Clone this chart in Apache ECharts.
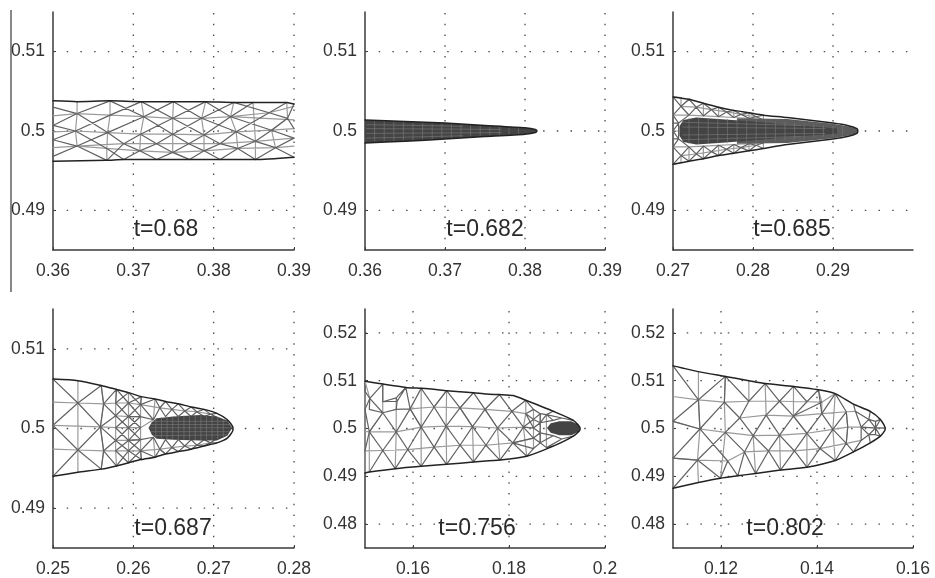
<!DOCTYPE html>
<html><head><meta charset="utf-8">
<style>html,body{margin:0;padding:0;background:#fff}#c{width:935px;height:578px}</style>
<script src="https://cdn.jsdelivr.net/npm/echarts@6/dist/echarts.min.js"></script>
</head><body><div id="c"></div>
<script>
// ---------- axis ranges ----------
const xRanges = [[0.36,0.39],[0.36,0.39],[0.27,0.30],[0.25,0.28],[0.15,0.20],[0.11,0.16]];
const yRanges = [[0.485,0.515],[0.485,0.515],[0.485,0.515],[0.485,0.515],[0.475,0.525],[0.475,0.525]];
const xTicks = [[0.36,0.37,0.38,0.39],[0.36,0.37,0.38,0.39],[0.27,0.28,0.29],[0.25,0.26,0.27,0.28],[0.16,0.18,0.2],[0.12,0.14,0.16]];
const yTicks = [[0.49,0.5,0.51],[0.49,0.5,0.51],[0.49,0.5,0.51],[0.49,0.5,0.51],[0.48,0.49,0.5,0.51,0.52],[0.48,0.49,0.5,0.51,0.52]];
const timeLabels = ['t=0.68','t=0.682','t=0.685','t=0.687','t=0.756','t=0.802'];

// ---------- panel 1, t=0.68 ----------
const nodes1 = {
 T0:[.3600,.5038],T1:[.3630,.5037],T2:[.3671,.5038],T3:[.3710,.5037],T4:[.3750,.5037],T5:[.3790,.5037],T6:[.3825,.5036],T7:[.3849,.5036],T8:[.3891,.5036],T9:[.3900,.5034],
 A1:[.3630,.5022],A2:[.3671,.5020],A3:[.3713,.5018],A4:[.3749,.5016],A5:[.3785,.5016],A6:[.3821,.5018],A7:[.3869,.5023],A8:[.3892,.5016],
 B1:[.3628,.5000],B2:[.3668,.4998],B3:[.3709,.4996],B4:[.3749,.4996],B5:[.3788,.4995],B6:[.3828,.4999],B7:[.3872,.5001],
 C1:[.3630,.4981],C2:[.3688,.4984],C3:[.3729,.4984],C4:[.3769,.4984],C5:[.3808,.4984],C6:[.3852,.4987],C7:[.3877,.4979],
 D2:[.3667,.4978],D3:[.3708,.4975],D4:[.3749,.4973],D5:[.3788,.4975],D6:[.3830,.4978],
 E0:[.3600,.4962],E2:[.3667,.4963],E3:[.3688,.4964],E4:[.3729,.4964],E5:[.3770,.4964],E6:[.3808,.4964],E7:[.3852,.4964],E8:[.3900,.4967],
 La:[.3600,.5030],Lb:[.3600,.5019],Ly:[.3600,.5007],Lc:[.3600,.4999],Lx:[.3600,.4989],Ld:[.3600,.4979],Le:[.3600,.4968],
 R1:[.3900,.5031],R2:[.3900,.5014],R3:[.3900,.5003],R4:[.3900,.4991],R5:[.3900,.4981]
};
const edge1 = ['T0 T1 T2 T3 T4 T5 T6 T7 T8 T9','E0 E2 E3 E4 E5 E6 E7 E8'];
const dark1 = ['Ly A1 T2','Lx B1 A2 T3','Le C1 B2 A3 T4','La A1 B2 C2 D3 E4','Ly B1 D2 E3','Lx C1 E2','T2 A3 B4 C4 D5 E6','T3 A4 B5 C5 D6 E7','T4 A5 B6 C6 C7 E8','T5 A6 B7 R4',
 'T6 A7 A8 R3','E2 C2 B3 A4 T5','E3 D3 C3 B4 A5 T6','E4 D4 C4 B5 A6 T7','E5 D5 C5 B6 A7 T8','E6 D6 C6 B7 A8 T9','E7 C7 R4','B3 C3 D4 E5'];
const light1 = ['T1 A1 B1 C1','T2 A2 B2 D2 E2','T3 A3 B3 D3','T4 A4 B4 D4 E5','T5 A5 B5 D5','T6 A6 B6 D6','T7 C6 E7','T8 A8 B7 C7','Lb A1 A2 A3 A4 A5 A6 A7 R1','Lc B1 B2 B3 B4 B5 B6 B7 R3','Ld C1 D2 D3 D4 D5 D6 C7 R5','C1 C2 C3 C4 C5 C6 R4','A6 R2'];
const core1 = [];
const mid1 = [];
const fine1 = [];

// ---------- panel 2, t=0.682 ----------
const nodes2 = {
 T0:[.3600,.5014],T1:[.3650,.5012],T2:[.3700,.5010],T3:[.3750,.5007],T4:[.3800,.5004],T5:[.3813,.5002],T6:[.3815,.5000],
 B0:[.3600,.4985],B1:[.3650,.4987],B2:[.3700,.4990],B3:[.3750,.4993],B4:[.3800,.4996],B5:[.3813,.4998]
};
const edge2 = ['T0 T1 T2 T3 T4 T5 T6 B5 B4 B3 B2 B1 B0'];
const dark2 = [];
const light2 = [];
const core2 = [[.3600,.5014],[.3650,.5012],[.3700,.5010],[.3750,.5007],[.3800,.5004],[.3813,.5002],[.3815,.5000],[.3813,.4998],[.3800,.4996],[.3750,.4993],[.3700,.4990],[.3650,.4987],[.3600,.4985]];
const mid2 = [];
const fine2 = [[.3612,.5012,.3612,.4987],[.3624,.5012,.3624,.4987],[.3636,.5011,.3636,.4988],[.3648,.5011,.3648,.4988],[.3660,.5010,.3660,.4989],[.3672,.5010,.3672,.4990],[.3684,.5009,.3684,.4990],[.3696,.5009,.3696,.4991],[.3708,.5008,.3708,.4991],[.3720,.5008,.3720,.4992],[.3732,.5007,.3732,.4993],[.3744,.5006,.3744,.4994],[.3756,.5005,.3756,.4995],[.3768,.5005,.3768,.4995],[.3780,.5004,.3780,.4996],[.3792,.5003,.3792,.4997],
 [.3602,.5008,.3722,.5006],[.3602,.5003,.3770,.5002],[.3602,.4997,.3770,.4998],[.3602,.4991,.3722,.4994]];

// ---------- panel 3, t=0.685 ----------
const nodes3 = {
 T0:[.2700,.5043],T1:[.2710,.5042],T2:[.2720,.5040],T3:[.2729,.5038],T4:[.2738,.5035],T5:[.2748,.5033],T6:[.2757,.5030],T7:[.2767,.5028],T8:[.2776,.5026],T9:[.2785,.5024],T10:[.2795,.5023],T11:[.2804,.5021],T12:[.2813,.5020],
 C1:[.2710,.5031],C2:[.2729,.5030],C3:[.2748,.5027],C4:[.2767,.5024],C5:[.2785,.5021],C6:[.2804,.5018],
 L0:[.2700,.5020],L1:[.2720,.5020],L2:[.2738,.5019],L3:[.2757,.5018],L4:[.2776,.5017],L5:[.2795,.5016],L6:[.2813,.5014],
 U0:[.2700,.4958],U1:[.2710,.4960],U2:[.2720,.4962],U3:[.2729,.4964],U4:[.2738,.4965],U5:[.2748,.4967],U6:[.2757,.4969],U7:[.2767,.4970],U8:[.2776,.4972],U9:[.2785,.4973],U10:[.2795,.4975],U11:[.2804,.4977],U12:[.2813,.4978],
 D1:[.2710,.4969],D2:[.2729,.4971],D3:[.2748,.4974],D4:[.2767,.4977],D5:[.2785,.4979],D6:[.2804,.4982],
 M0:[.2700,.4980],M1:[.2720,.4980],M2:[.2738,.4981],M3:[.2757,.4982],M4:[.2776,.4983],M5:[.2795,.4984],M6:[.2813,.4985],
 F0:[.2700,.5010],F1:[.2707,.5010],F2:[.2700,.5000],F3:[.2707,.5000],F4:[.2700,.4990],F5:[.2707,.4990],
 E0:[.2843,.5017],E1:[.2900,.5010],E2:[.2918,.5007],E3:[.2930,.5003],E4:[.2931,.5000],E5:[.2930,.4997],E6:[.2918,.4993],E7:[.2900,.4990],E8:[.2843,.4983]
};
const edge3 = ['T0 T2 T4 T6 T8 T10 T12 E0 E1 E2 E3 E4 E5 E6 E7 E8 U12 U10 U8 U6 U4 U2 U0'];
const dark3 = ['T0 C1 L1 C2 T4 C3 L3 C4 T8 C5 L5 C6 T12','L0 C1 T2 C2 L2 C3 T6 C4 L4 C5 T10 C6 L6','U0 D1 M1 D2 U4 D3 M3 D4 U8 D5 M5 D6 U12','M0 D1 U2 D2 M2 D3 U6 D4 M4 D5 U10 D6 M6','L0 F1 F2 F5 M0','F0 F1 F3 F5 F4','L1 F1','M1 F5'];
const light3 = ['T2 C1 L1','T4 L2','T6 L3','T8 L4','T10 L5','T12 L6','U2 M1','U4 M2','U6 M3','U8 M4','U10 M5','U12 M6','T0 T1 C1 C2 C3 C4 C5 C6','U0 U1 D1 D2 D3 D4 D5 D6','L0 L1 L2 L3 L4 L5 L6','M0 M1 M2 M3 M4 M5 M6','F2 F3'];
const core3 = [[.2708,.5006],[.2713,.5014],[.2729,.5017],[.2757,.5015],[.2800,.5012],[.2843,.5008],[.2880,.5005],[.2905,.5003],[.2905,.4997],[.2880,.4995],[.2843,.4992],[.2800,.4988],[.2757,.4985],[.2729,.4983],[.2713,.4986],[.2708,.4994]];
const mid3 = [[.2780,.5016],[.2843,.5015],[.2900,.5009],[.2918,.5006],[.2930,.5003],[.2931,.5000],[.2930,.4997],[.2918,.4994],[.2900,.4991],[.2843,.4985],[.2780,.4984]];
const fine3 = [[.2720,.5016,.2720,.4984],[.2732,.5016,.2732,.4984],[.2744,.5016,.2744,.4984],[.2756,.5015,.2756,.4985],[.2768,.5015,.2768,.4985],[.2780,.5014,.2780,.4986],[.2792,.5013,.2792,.4987],[.2804,.5014,.2804,.4986],[.2816,.5013,.2816,.4987],[.2828,.5012,.2828,.4988],[.2840,.5011,.2840,.4989],[.2852,.5010,.2852,.4990],[.2864,.5009,.2864,.4991],[.2876,.5008,.2876,.4992],[.2888,.5007,.2888,.4993],[.2900,.5006,.2900,.4994],[.2912,.5005,.2912,.4995],
 [.2712,.5011,.2860,.5007],[.2712,.5005,.2890,.5003],[.2712,.4995,.2890,.4997],[.2712,.4989,.2860,.4993]];

// ---------- panel 4, t=0.687 ----------
const nodes4 = {
 L0:[.2500,.5062],L1:[.2500,.5033],L2:[.2500,.5004],L3:[.2500,.4974],L4:[.2500,.4940],
 T1:[.2531,.5060],T2:[.2560,.5054],T3:[.2579,.5049],T4:[.2594,.5045],T5:[.2610,.5040],T6:[.2627,.5037],T7:[.2640,.5034],T8:[.2656,.5031],T9:[.2672,.5027],T10:[.2688,.5024],T11:[.2704,.5019],T12:[.2717,.5011],T13:[.2724,.5001],
 B1:[.2531,.4945],B2:[.2560,.4949],B3:[.2579,.4953],B4:[.2594,.4957],B5:[.2610,.4961],B6:[.2627,.4964],B7:[.2640,.4968],B8:[.2656,.4971],B9:[.2672,.4974],B10:[.2688,.4978],B11:[.2704,.4982],B12:[.2717,.4988],B13:[.2724,.4998],
 A1:[.2531,.5032],A2:[.2563,.5031],G1:[.2578,.5032],A3:[.2578,.5016],A4:[.2594,.5032],A5:[.2594,.5015],A6:[.2609,.5030],A7:[.2609,.5015],A8:[.2633,.5026],A9:[.2648,.5024],A10:[.2664,.5022],A11:[.2679,.5021],A12:[.2696,.5018],
 K1:[.2531,.4973],K2:[.2563,.4972],G2:[.2578,.4972],K3:[.2578,.4985],K4:[.2594,.4972],K5:[.2594,.4985],K6:[.2609,.4972],K7:[.2609,.4986],K8:[.2633,.4974],K9:[.2648,.4976],K10:[.2664,.4978],K11:[.2679,.4979],K12:[.2696,.4982],
 M1:[.2559,.5002],M2:[.2578,.5001],M3:[.2594,.5001],M4:[.2609,.5001],
 Q0:[.2625,.5011],Q1:[.2640,.5015],Q2:[.2656,.5015],Q3:[.2672,.5015],Q4:[.2688,.5015],Q5:[.2704,.5014],
 W0:[.2625,.4989],W1:[.2640,.4986],W2:[.2656,.4986],W3:[.2672,.4986],W4:[.2688,.4986],W5:[.2704,.4987]
};
const edge4 = ['L0 T1 T2 T3 T4 T5 T6 T7 T8 T9 T10 T11 T12 T13 B13 B12 B11 B10 B9 B8 B7 B6 B5 B4 B3 B2 B1 L4'];
const dark4 = ['L0 A1 T2 A2 T3','A1 L2 K1 L4','A1 M1 K1 B2 K2 B3','A2 A3','A2 M1 K3','K2 K3','M1 A3','M1 K2','T3 G1','T3 A4 T5 A6 T6','T4 G1 A5','T4 A6 A5','A3 A4 A7','A3 M3 K3','M2 A5 M4','M2 K5 M4','A5 A7','K5 K7','M3 A7','M3 K7','K3 K4 K7','G2 K5 K6','B3 K4 B5 K6 B6','B4 G2','B4 K6',
 'A6 Q0','K6 W0','T6 A8 T7 A9 T8 A10 T9 A11 T10 A12 T11','B6 K8 B7 K9 B8 K10 B9 K11 B10 K12 B11','A7 Q0 A8 Q1 A9 Q2 A10 Q3 A11 Q4 A12 Q5','K7 W0 K8 W1 K9 W2 K10 W3 K11 W4 K12 W5'];
const light4 = ['T1 A1 K1 B1','T2 A2 M1 K2 B2','T3 G1 A3 M2 K3 G2 B3','T4 A4 A5 M3 K5 K4 B4','T5 A6 A7 M4 K7 K6 B5','L1 A1 A2 G1 A4 A6 A8 A9 A10 A11 A12','L2 M1 M2 M3 M4 Q0','L3 K1 K2 G2 K4 K6 K8 K9 K10 K11 K12','A3 A5 A7','K3 K5 K7','T6 Q0','B6 W0','T7 A8','B7 K8'];
const core4 = [[.2619,.5001],[.2623,.5008],[.2629,.5013],[.2650,.5015],[.2683,.5017],[.2704,.5015],[.2717,.5010],[.2723,.5001],[.2717,.4991],[.2704,.4985],[.2683,.4985],[.2650,.4986],[.2629,.4987],[.2623,.4992]];
const mid4 = [];
const fine4 = [[.2628,.5012,.2628,.4988],[.2635,.5014,.2635,.4987],[.2642,.5015,.2642,.4986],[.2649,.5015,.2649,.4986],[.2656,.5015,.2656,.4986],[.2663,.5016,.2663,.4986],[.2670,.5016,.2670,.4986],[.2677,.5016,.2677,.4986],[.2684,.5016,.2684,.4986],[.2691,.5016,.2691,.4986],[.2698,.5015,.2698,.4986],[.2705,.5014,.2705,.4987],[.2712,.5011,.2712,.4990],
 [.2625,.5009,.2716,.5009],[.2622,.5005,.2720,.5005],[.2621,.5001,.2722,.5001],[.2622,.4996,.2720,.4996],[.2625,.4991,.2716,.4992]];

// ---------- panel 5, t=0.756 ----------
const nodes5 = {
 L0:[.1500,.5099],L1:[.1500,.5078],L2:[.1500,.5040],L3:[.1500,.4994],L4:[.1500,.4953],L5:[.1500,.4907],
 T1:[.1537,.5093],T2:[.1585,.5086],T3:[.1617,.5084],T4:[.1643,.5082],T5:[.1670,.5079],T6:[.1698,.5077],T7:[.1726,.5075],T8:[.1753,.5072],T9:[.1780,.5071],T10:[.1809,.5069],T11:[.1835,.5059],T12:[.1892,.5036],T13:[.1934,.5017],T14:[.1948,.5001],
 B1:[.1509,.4909],B2:[.1563,.4916],B3:[.1617,.4921],B4:[.1670,.4925],B5:[.1726,.4930],B6:[.1781,.4934],B7:[.1837,.4942],B8:[.1892,.4963],B9:[.1934,.4984],B10:[.1948,.4998],
 U1:[.1510,.5063],U2:[.1537,.5056],U3:[.1565,.5064],U4:[.1567,.5057],U5:[.1509,.5040],U6:[.1537,.5033],U7:[.1565,.5040],
 A0:[.1594,.5041],A1:[.1644,.5045],A2:[.1698,.5043],A3:[.1750,.5040],A4:[.1806,.5036],A5:[.1835,.5031],
 C0:[.1509,.4993],C1:[.1565,.4993],C2:[.1617,.5003],C3:[.1669,.5005],C4:[.1724,.5004],C5:[.1776,.5001],C6:[.1830,.5003],
 D1:[.1537,.4954],D2:[.1589,.4956],D3:[.1644,.4961],D4:[.1698,.4965],D5:[.1752,.4965],D6:[.1808,.4970],
 P1:[.1851,.5040],P2:[.1851,.5019],P3:[.1851,.5001],P4:[.1851,.4980],P5:[.1851,.4958],
 Q1:[.1865,.5031],Q2:[.1865,.5012],Q3:[.1865,.4991],Q4:[.1865,.4970],
 R1:[.1878,.5029],R2:[.1878,.4960],
 S1:[.1892,.5017],S2:[.1892,.4985],S3:[.1910,.5022],S4:[.1910,.4978]
};
const edge5 = ['L0 T1 T2 T3 T4 T5 T6 T7 T8 T9 T10 T11 T12 T13 T14 B10 B9 B8 B7 B6 B5 B4 B3 B2 B1 L5'];
const dark5 = ['T3 A1 T5 A2 T7 A3 T9 A4 T11','A0 T3','A0 C2 A1 C3 A2 C4 A3 C5 A4 C6','A0 C1 D2 C2 D3 C3 D4 C4 D5 C5 D6 C6','B2 D2 B3 D3 B4 D4 B5 D5 B6 D6 B7','L2 C0 U6 C1 D1 C0 L4','B1 D1 B2','L1 U1 L2','T1 U1 U5 U6 U1','T1 U2 U3 T2 U4 U7 U6','U3 U4 U2','U7 A0','T2 A0','T11 P1 A5 P2 C6 P3 A5','C6 P4 D6 P5 B7','P1 Q1 P2 Q2 P3 Q3 P4 Q4 P5','Q1 R1 Q2 S1 R1','Q3 S2 Q4 R2','R1 S3 S1','R2 S4 S2','T12 R1','B8 R2','T13 S3','B9 S4','P2 Q2 S1','P4 Q3 S2','Q1 Q2 Q3 Q4'];
const light5 = ['T3 C2 B3','T5 A1','C2 A0','T5 C3 B4','T7 A2 C4 B5','T9 A3 C5 B6','T11 A5 C6 B7','T1 U6 C0 B1','U3 U7 C1 B2','L0 U1','A0 A1 A2 A3 A4 A5','L3 C0 C1 C2 C3 C4 C5 C6 P3','L4 D1 D2 D3 D4 D5 D6 P4','L1 L5','P1 P5','Q1 Q4','R1 R2'];
const core5 = [[.1879,.5001],[.1887,.5011],[.1905,.5015],[.1930,.5015],[.1945,.5008],[.1948,.5001],[.1945,.4993],[.1930,.4986],[.1905,.4986],[.1887,.4991]];
const mid5 = [];
const fine5 = [];

// ---------- panel 6, t=0.802 ----------
const nodes6 = {
 L0:[.1100,.5131],L1:[.1100,.5067],L2:[.1100,.5015],L3:[.1100,.4938],L4:[.1100,.4875],
 T1:[.1153,.5119],T2:[.1209,.5109],T3:[.1258,.5100],T4:[.1292,.5094],T5:[.1351,.5088],T6:[.1403,.5081],T7:[.1438,.5073],T8:[.1476,.5051],T9:[.1511,.5036],T10:[.1532,.5019],T11:[.1542,.5001],
 B1:[.1153,.4887],B2:[.1199,.4896],B3:[.1235,.4901],B4:[.1272,.4906],B5:[.1324,.4913],B6:[.1379,.4919],B7:[.1438,.4933],B8:[.1476,.4951],B9:[.1511,.4970],B10:[.1532,.4984],B11:[.1542,.4998],
 A1:[.1153,.5060],A2:[.1207,.5055],A3:[.1258,.5057],A4:[.1322,.5057],A5:[.1379,.5056],A6:[.1410,.5055],
 N1:[.1239,.5022],N2:[.1294,.5028],N3:[.1351,.5026],N4:[.1410,.5031],N5:[.1461,.5035],N6:[.1480,.5036],
 C1:[.1156,.4999],C2:[.1209,.4992],C3:[.1267,.4985],C4:[.1322,.4986],C5:[.1379,.4990],C6:[.1433,.4998],C7:[.1464,.5003],C8:[.1492,.5003],
 D1:[.1151,.4934],D2:[.1214,.4932],D3:[.1249,.4951],D4:[.1299,.4953],D5:[.1353,.4953],D6:[.1406,.4958],D7:[.1461,.4969],D8:[.1492,.4975],
 E1:[.1508,.5019],E2:[.1508,.4987],E3:[.1522,.5001],E4:[.1522,.5015],E5:[.1522,.4987]
};
const edge6 = ['L0 T1 T2 T3 T4 T5 T6 T7 T8 T9 T10 T11 B11 B10 B9 B8 B7 B6 B5 B4 B3 B2 B1 L4'];
const dark6 = ['L0 A1 T2 A2','L2 A1','L2 C1 L3 D1 L4','A1 C1 A2','C1 D2','C2 D1','D1 B2 D2','A2 N1 C3 N2 A4 T5 A5 T6 N4','T2 A3 N1','C2 N1','T4 A3','T4 A4 N2 C4 N3 A5','A4 N3 C5 N4 C6','C2 D3 C3 D4 C4 D5 C5 D6 C6 D7 C7','D2 B3 D3 B4 D4 B5 D5 B6 D6 B7 D7','N4 T7','N3 A6','T7 N5 C7 D7 B8','T8 N6 C8 D8 B8','N5 C6','N6 E1 C8 E2 D8','T9 E1 E3 E2 B9','E1 E4 T10','E2 E5 B10','E3 T11','E4 E3 E5','C8 E3','T10 E3 B10'];
const light6 = ['L0 L4','T1 A1 C1 D1 B1','T2 A2 C2 B2','T3 A3','T4 N2','T5 N3 C5 B6','C3 B4','C4 B5','T6 A6 N4','T7 C6 B7','L1 A1 A2 A3 A4 A5 A6 T7','L2 C1 C2 C3 C4 C5 C6 C7 C8 E3 T11','N1 N2 N3 N4 N5 N6','L3 D1 D2 D3 D4 D5 D6 D7 D8','N5 C7 D7'];
const core6 = [];
const mid6 = [];
const fine6 = [];

// ---------- builders ----------
const allNodes = [nodes1,nodes2,nodes3,nodes4,nodes5,nodes6];
const edges = [edge1,edge2,edge3,edge4,edge5,edge6];
const darks = [dark1,dark2,dark3,dark4,dark5,dark6];
const lights = [light1,light2,light3,light4,light5,light6];
const cores = [core1,core2,core3,core4,core5,core6];
const mids = [mid1,mid2,mid3,mid4,mid5,mid6];
const fines = [fine1,fine2,fine3,fine4,fine5,fine6];
const grids = [
 {left:53,top:12,width:241,height:238},{left:365,top:12,width:240,height:238},{left:673,top:12,width:240,height:238},
 {left:53,top:309,width:241,height:239},{left:365,top:309,width:240,height:239},{left:673,top:309,width:240,height:239}];
const titlePos = [[166,218],[485,218],[792,218],[173,517],[477,517],[785,517]];
const FONT = '"Liberation Sans",Arial,sans-serif';

function path(nodes, chains){
  const out=[];
  chains.forEach(c=>{ c.split(' ').forEach(k=>out.push(nodes[k])); out.push([null,null]); });
  return out;
}
function segs(list){
  const out=[];
  list.forEach(s=>{ out.push([s[0],s[1]],[s[2],s[3]],[null,null]); });
  return out;
}
function lineSeries(i,data,color,width,z,extra){
  return Object.assign({type:'line',xAxisIndex:i,yAxisIndex:i,data,showSymbol:false,symbol:'none',silent:true,z,clip:false,
    lineStyle:{color,width,cap:'round',join:'round'},connectNulls:false,animation:false},extra||{});
}
function polySeries(i,pts,fill,z){
  return {type:'custom',xAxisIndex:i,yAxisIndex:i,data:pts,encode:{x:0,y:1},silent:true,z,animation:false,clip:false,
    renderItem(p,api){ if(p.dataIndex!==0) return; return {type:'polygon',shape:{points:pts.map(q=>api.coord(q))},style:{fill}}; }};
}
const series=[];
const xAxis=[],yAxis=[],title=[];
grids.forEach((g,i)=>{
  const axisBase={type:'value',gridIndex:i,
    axisLine:{show:true,onZero:false,lineStyle:{color:'#3a3a3a',width:1.5}},
    axisTick:{show:true,inside:true,length:3,lineStyle:{color:'#3a3a3a'}},
    splitLine:{show:false}};
  xAxis.push({...axisBase,min:xRanges[i][0],max:xRanges[i][1],interval:0.01*(i>=4?2:1),
    axisTick:{...axisBase.axisTick,customValues:xTicks[i]},
    axisLabel:{customValues:xTicks[i],color:'#333',fontFamily:FONT,fontSize:17.5,margin:12,hideOverlap:false,formatter:v=>String(+v.toFixed(4))}});
  yAxis.push({...axisBase,min:yRanges[i][0],max:yRanges[i][1],interval:0.01,
    axisTick:{...axisBase.axisTick,customValues:yTicks[i]},
    axisLabel:{customValues:yTicks[i],color:'#333',fontFamily:FONT,fontSize:17.5,margin:8,hideOverlap:false,formatter:v=>String(+v.toFixed(4))}});
  title.push({text:timeLabels[i],left:titlePos[i][0],top:titlePos[i][1],textAlign:'center',padding:0,
    textStyle:{fontFamily:FONT,fontSize:23,fontWeight:'normal',color:'#2a2a2a'}});
  // dotted grid, one series per orientation
  const hGrid=[],vGrid=[];
  yTicks[i].forEach(t=>hGrid.push([xRanges[i][0],t],[xRanges[i][1],t],[null,null]));
  xTicks[i].filter(t=>t>xRanges[i][0]).forEach(t=>vGrid.push([t,yRanges[i][0]],[t,yRanges[i][1]],[null,null]));
  series.push(lineSeries(i,hGrid,'#4a4a4a',1.2,1,{lineStyle:{color:'#4a4a4a',width:1.3,type:[1.5,12.2]}}));
  series.push(lineSeries(i,vGrid,'#4a4a4a',1.2,1,{lineStyle:{color:'#4a4a4a',width:1.3,type:[1.5,9.2]}}));
  series.push(lineSeries(i,path(allNodes[i],lights[i]),'#9a9a9a',1.2,3));
  series.push(lineSeries(i,path(allNodes[i],darks[i]),'#616161',1.2,4));
  if(mids[i].length) series.push(polySeries(i,mids[i],'#5c5c5c',5));
  if(cores[i].length) series.push(polySeries(i,cores[i],'#444',6));
  if(fines[i].length) series.push(lineSeries(i,segs(fines[i]),'#7c7c7c',0.6,6.5));
  series.push(lineSeries(i,path(allNodes[i],edges[i]),'#222',1.5,7,{smooth:0.2}));
});
const chart=echarts.init(document.getElementById('c'),null,{renderer:'canvas'});
chart.setOption({animation:false,backgroundColor:'#fff',grid:grids,xAxis,yAxis,title,series,
  graphic:[{type:'line',shape:{x1:11,y1:10,x2:11,y2:292},style:{stroke:'#555',lineWidth:1.4},z:10}]});
</script></body></html>
